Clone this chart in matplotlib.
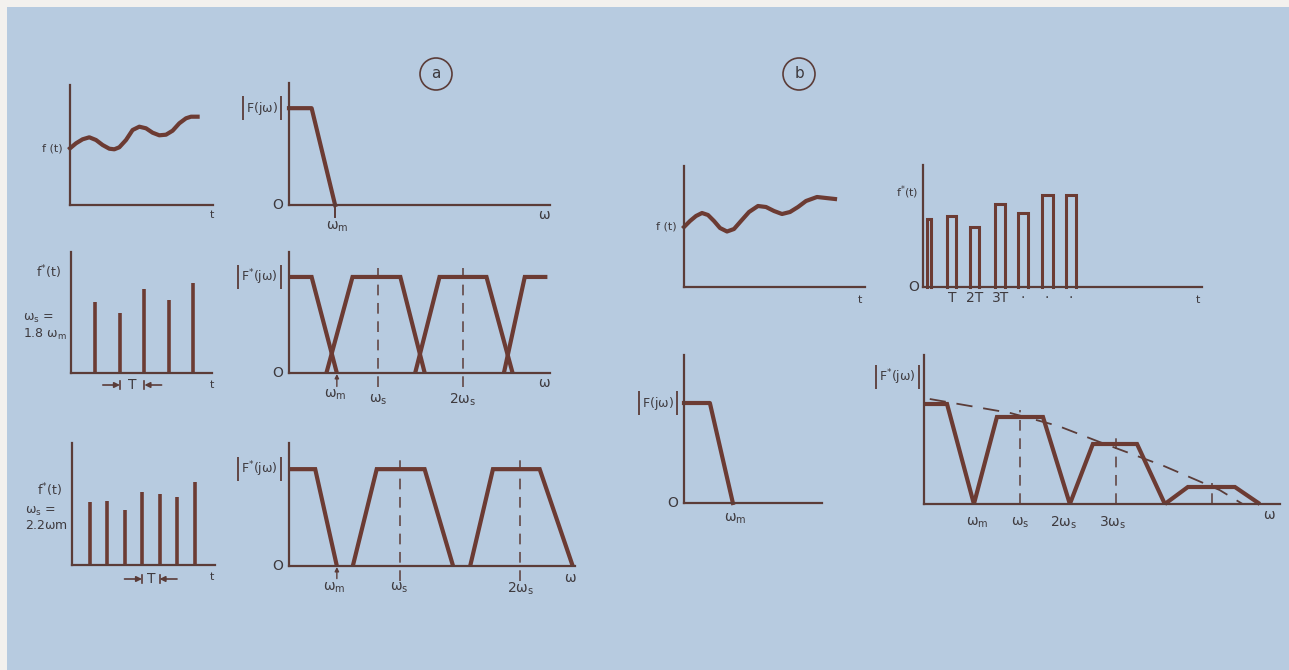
import matplotlib
matplotlib.use("Agg")
import matplotlib.pyplot as plt
from matplotlib.patches import Rectangle, Circle

# Figure size in pixels
W, H = 1289, 670

# Colours
BG_COLOR = "#b7cbe0"
LINE_COLOR = "#6c3b33"
AXIS_COLOR = "#5b3c38"
TEXT_COLOR = "#3e3a3e"

plt.rcParams["mathtext.fontset"] = "dejavusans"
plt.rcParams["mathtext.default"] = "regular"
plt.rcParams["font.family"] = ["DejaVu Sans"]

# ---------------- panel (a) data ----------------
# continuous signal f(t), top row (time / value in drawing units)
a_cont_t = [0, 6, 12.6, 19.3, 26, 32.6, 39.3, 44.3, 49.3, 56, 62.6, 69.3, 76,
            82.6, 89.3, 96, 102.6, 109.3, 116, 121, 127.6]
a_cont_f = [56.7, 61.7, 65.7, 67.7, 65, 60, 56.3, 55.7, 57.7, 65, 75, 78.3,
            76.7, 72.3, 69.7, 70.3, 74.3, 81.7, 86.7, 88.3, 88.3]

# baseband spectrum |F(jw)| (w in units of ws)
a_base_w = [0, 0.26, 0.53]
a_base_mag = [1, 1, 0]
a_wm_top = 0.53

# samples with ws = 1.8 wm (t in units of T)
a18_times = [1, 2, 3, 4, 5]
a18_values = [71, 60, 84, 73, 90]

# spectrum lobes for ws = 1.8 wm
a18_lobes_w = [
    [0, 0.26, 0.55],
    [0.43, 0.73, 1.28, 1.56],
    [1.45, 1.73, 2.27, 2.57],
    [2.47, 2.71, 2.97],
]
a18_lobes_mag = [
    [1, 1, 0],
    [0, 1, 1, 0],
    [0, 1, 1, 0],
    [0, 1, 1],
]
a18_dash_w = [1.02, 2.0]
a18_wm = 0.55

# samples with ws = 2.2 wm
a22_times = [1, 2, 3, 4, 5, 6, 7]
a22_values = [63, 64, 55, 73, 71, 68, 83]

# spectrum lobes for ws = 2.2 wm
a22_lobes_w = [
    [0, 0.23, 0.42],
    [0.56, 0.77, 1.19, 1.44],
    [1.59, 1.79, 2.2, 2.49],
]
a22_lobes_mag = [
    [1, 1, 0],
    [0, 1, 1, 0],
    [0, 1, 1, 0],
]
a22_dash_w = [0.97, 2.03]
a22_wm = 0.42

# ---------------- panel (b) data ----------------
b_cont_t = [0, 6, 12, 18, 24, 30, 36, 43, 50, 57, 65, 74, 82, 90, 98, 106,
            114, 122, 133, 142, 151]
b_cont_f = [60, 66, 71, 74, 72, 66, 59, 55.5, 58, 66, 75, 81, 80, 76, 73, 75,
            80, 86, 90, 89, 88]

# flat-top pulses (t in units of T)
b_pulse_start = [0.17, 1.01, 1.97, 3.03, 3.99, 5.0, 6.01]
b_pulse_end = [0.34, 1.39, 2.35, 3.45, 4.41, 5.46, 6.43]
b_pulse_height = [68, 71, 60, 83, 74, 92, 92]
b_pulse_labels = ["T", "2T", "3T", "\u00b7", "\u00b7", "\u00b7"]
b_pulse_label_t = [1.22, 2.18, 3.24, 4.2, 5.2, 6.2]

b_base_w = [0, 0.27, 0.51]
b_base_mag = [1, 1, 0]

b_lobes_w = [
    [0, 0.24, 0.52],
    [0.52, 0.76, 1.24, 1.52],
    [1.52, 1.76, 2.22, 2.51],
    [2.51, 2.75, 3.24, 3.5],
]
b_lobes_mag = [
    [1.0, 1.0, 0],
    [0, 0.87, 0.87, 0],
    [0, 0.60, 0.60, 0],
    [0, 0.17, 0.17, 0],
]
b_dash_w = [1.0, 2.0, 3.0]
b_dash_top = [0.94, 0.66, 0.21]
b_env_w = [0.06, 0.9, 1.4, 1.83, 2.5, 3.08, 3.32]
b_env_mag = [1.05, 0.91, 0.78, 0.62, 0.38, 0.14, 0.0]
b_tick_labels = [r"$\omega_m$", r"$\omega_s$", r"$2\omega_s$", r"$3\omega_s$"]
b_tick_w = [0.55, 1.0, 1.45, 1.97]

# texts that get tall |...| bars once their size is known
bracket_texts = []


def make_axes(fig, origin, x_end, y_top, x_max, y_max):
    """Create an L-shaped axes whose origin and extent are given in figure pixels."""
    x0, y0 = origin
    ax = fig.add_axes([x0 / W, 1 - y0 / H, (x_end - x0) / W, (y0 - y_top) / H])
    ax.set_xlim(0, x_max)
    ax.set_ylim(0, y_max)
    ax.patch.set_visible(False)
    for side in ["top", "right"]:
        ax.spines[side].set_visible(False)
    for side in ["left", "bottom"]:
        ax.spines[side].set_color(AXIS_COLOR)
        ax.spines[side].set_linewidth(1.6)
    ax.set_xticks([])
    ax.set_yticks([])
    return ax


def label(ax, x, y, text, size=10, **kwargs):
    ax.text(x, y, text, color=TEXT_COLOR, fontsize=size, clip_on=False, **kwargs)


def side_label(ax, y, text, dx=-5, size=10, **kwargs):
    """Label placed just left of the vertical axis."""
    return ax.annotate(text, xy=(0, y), xytext=(dx, 0), textcoords="offset points",
                       ha="right", va="center", color=TEXT_COLOR, fontsize=size,
                       annotation_clip=False, **kwargs)


def bracket_label(ax, y, text, dx=-5, size=9):
    """|F(jw)| style label: inner text now, tall bars added after layout."""
    t = side_label(ax, y, text, dx=dx - 3, size=size)
    bracket_texts.append(t)


def add_brackets(fig, bg):
    fig.canvas.draw()
    renderer = fig.canvas.get_renderer()
    for t in bracket_texts:
        bb = t.get_window_extent(renderer)
        yc = (bb.y0 + bb.y1) / 2
        for x in (bb.x0 - 3, bb.x1 + 3):
            bg.plot([x, x], [H - (yc - 12), H - (yc + 12)], color=AXIS_COLOR,
                    lw=1.3, solid_capstyle="butt")


def draw_lobes(ax, lobes_w, lobes_mag):
    for w, m in zip(lobes_w, lobes_mag):
        ax.plot(w, m, color=LINE_COLOR, lw=3.0, solid_joinstyle="miter",
                solid_capstyle="butt", clip_on=False)


def draw_dashes(ax, positions, bottom, top):
    for p in positions:
        ax.plot([p, p], [bottom, top], color=AXIS_COLOR, lw=1.1,
                dashes=(7, 5), clip_on=False)


def wm_arrow(ax, w, y_from, y_to):
    ax.annotate("", xy=(w, y_to), xytext=(w, y_from),
                arrowprops=dict(arrowstyle="-|>", color=AXIS_COLOR, lw=1.0,
                                mutation_scale=6, shrinkA=0, shrinkB=0),
                annotation_clip=False)


def period_marker(ax, t_left, t_right, y, arm, bar):
    """Draw the ->| T |<- marker between two samples."""
    style = dict(arrowstyle="-|>", color=AXIS_COLOR, lw=1.2, mutation_scale=8,
                 shrinkA=0, shrinkB=0)
    ax.annotate("", xy=(t_left, y), xytext=(t_left - arm, y),
                arrowprops=style, annotation_clip=False)
    ax.annotate("", xy=(t_right, y), xytext=(t_right + arm, y),
                arrowprops=style, annotation_clip=False)
    for t in (t_left, t_right):
        ax.plot([t, t], [y - bar, y + bar], color=AXIS_COLOR, lw=1.2, clip_on=False)
    label(ax, (t_left + t_right) / 2, y, "T", size=10, ha="center", va="center")


def main():
    fig = plt.figure(figsize=(W / 100, H / 100), dpi=100)
    fig.patch.set_facecolor("#f3f1ee")

    # background board and circled panel letters
    bg = fig.add_axes([0, 0, 1, 1], zorder=-1)
    bg.set_xlim(0, W)
    bg.set_ylim(H, 0)
    bg.axis("off")
    bg.add_patch(Rectangle((7, 7), W, H, color=BG_COLOR, lw=0))
    for cx, letter in [(436, "a"), (799, "b")]:
        bg.add_patch(Circle((cx, 74), 16, fill=False, ec=AXIS_COLOR, lw=1.2))
        bg.text(cx, 73, letter, ha="center", va="center", fontsize=11, color=TEXT_COLOR)

    # ---------- (a) row 1: f(t) ----------
    ax = make_axes(fig, (70, 205), 213, 85, 143, 120)
    ax.plot(a_cont_t, a_cont_f, color=LINE_COLOR, lw=3.0, clip_on=False)
    side_label(ax, a_cont_f[0], "f (t)", size=8)
    label(ax, 142, -10, "t", size=8, ha="center", va="center")

    # ---------- (a) row 1: |F(jw)| ----------
    ax = make_axes(fig, (289, 205), 550, 83, 3.0, 1.26)
    ax.plot(a_base_w, a_base_mag, color=LINE_COLOR, lw=3.0, clip_on=False)
    ax.plot([a_wm_top, a_wm_top], [-0.12, 0.04], color=AXIS_COLOR, lw=1.4, clip_on=False)
    bracket_label(ax, 1.0, r"F(j$\omega$)")
    side_label(ax, 0.0, "O", dx=-4)
    label(ax, 0.55, -0.22, r"$\omega_m$", ha="center", va="center")
    label(ax, 2.94, -0.1, r"$\omega$", ha="center", va="center")

    # ---------- (a) row 2: samples, ws = 1.8 wm ----------
    ax = make_axes(fig, (71, 373), 212, 252, 5.76, 121)
    ax.vlines(a18_times, 0, a18_values, color=LINE_COLOR, lw=2.6, clip_on=False)
    side_label(ax, 101, r"f$^{*}$(t)", dx=-7, size=9)
    ax.annotate("$\\omega_s$ =\n1.8 $\\omega_m$", xy=(0, 46), xytext=(-3, 0),
                textcoords="offset points", ha="right", va="center",
                multialignment="left", color=TEXT_COLOR, fontsize=9,
                annotation_clip=False, linespacing=1.1)
    period_marker(ax, a18_times[1], a18_times[2], -12, 0.7, 4)
    label(ax, 5.76, -12, "t", size=8, ha="center", va="center")

    # ---------- (a) row 2: spectrum, ws = 1.8 wm ----------
    ax = make_axes(fig, (289, 373), 550, 252, 3.0, 1.26)
    draw_dashes(ax, a18_dash_w, -0.15, 1.09)
    draw_lobes(ax, a18_lobes_w, a18_lobes_mag)
    wm_arrow(ax, a18_wm, -0.14, -0.01)
    bracket_label(ax, 1.0, r"F$^{*}$(j$\omega$)")
    side_label(ax, 0.0, "O", dx=-4)
    label(ax, a18_wm - 0.02, -0.23, r"$\omega_m$", ha="center", va="center")
    label(ax, a18_dash_w[0], -0.28, r"$\omega_s$", ha="center", va="center")
    label(ax, a18_dash_w[1], -0.28, r"$2\omega_s$", ha="center", va="center")
    label(ax, 2.94, -0.1, r"$\omega$", ha="center", va="center")

    # ---------- (a) row 3: samples, ws = 2.2 wm ----------
    ax = make_axes(fig, (72, 565), 215, 443, 8.17, 122)
    ax.vlines(a22_times, 0, a22_values, color=LINE_COLOR, lw=2.6, clip_on=False)
    side_label(ax, 75, r"f$^{*}$(t)", dx=-7, size=9)
    ax.annotate("$\\omega_s$ =\n2.2$\\omega$m", xy=(0, 47), xytext=(-3, 0),
                textcoords="offset points", ha="right", va="center",
                multialignment="left", color=TEXT_COLOR, fontsize=9,
                annotation_clip=False, linespacing=1.1)
    period_marker(ax, a22_times[3], a22_times[4], -14, 1.0, 4)
    label(ax, 8.0, -12, "t", size=8, ha="center", va="center")

    # ---------- (a) row 3: spectrum, ws = 2.2 wm ----------
    ax = make_axes(fig, (289, 566), 575, 443, 2.51, 1.27)
    draw_dashes(ax, a22_dash_w, -0.16, 1.09)
    draw_lobes(ax, a22_lobes_w, a22_lobes_mag)
    wm_arrow(ax, a22_wm, -0.13, -0.01)
    bracket_label(ax, 1.0, r"F$^{*}$(j$\omega$)")
    side_label(ax, 0.0, "O", dx=-4)
    label(ax, a22_wm - 0.02, -0.23, r"$\omega_m$", ha="center", va="center")
    label(ax, a22_dash_w[0], -0.23, r"$\omega_s$", ha="center", va="center")
    label(ax, a22_dash_w[1], -0.24, r"$2\omega_s$", ha="center", va="center")
    label(ax, 2.47, -0.12, r"$\omega$", ha="center", va="center")

    # ---------- (b) row 1: f(t) ----------
    ax = make_axes(fig, (684, 287), 865, 166, 181, 121)
    ax.plot(b_cont_t, b_cont_f, color=LINE_COLOR, lw=3.0, clip_on=False)
    side_label(ax, b_cont_f[0], "f (t)", size=8)
    label(ax, 176, -13, "t", size=8, ha="center", va="center")

    # ---------- (b) row 1: flat-top pulses ----------
    ax = make_axes(fig, (923, 287), 1202, 165, 11.72, 122)
    for s, e, h in zip(b_pulse_start, b_pulse_end, b_pulse_height):
        ax.plot([s, s, e, e], [0, h, h, 0], color=LINE_COLOR, lw=2.2,
                solid_joinstyle="miter", clip_on=False)
    for t, txt in zip(b_pulse_label_t, b_pulse_labels):
        label(ax, t, -11, txt, ha="center", va="center")
    side_label(ax, 95, r"f$^{*}$(t)", dx=-3, size=8)
    side_label(ax, 0, "O", dx=-3)
    label(ax, 11.55, -13, "t", size=8, ha="center", va="center")

    # ---------- (b) row 2: |F(jw)| ----------
    ax = make_axes(fig, (684, 503), 822, 355, 1.44, 1.48)
    ax.plot(b_base_w, b_base_mag, color=LINE_COLOR, lw=3.0, clip_on=False)
    bracket_label(ax, 1.0, r"F(j$\omega$)", dx=-4)
    side_label(ax, 0.0, "O", dx=-4)
    label(ax, 0.53, -0.16, r"$\omega_m$", ha="center", va="center")

    # ---------- (b) row 2: |F*(jw)| of flat-top sampling ----------
    ax = make_axes(fig, (924, 504), 1280, 355, 3.71, 1.49)
    for p, top in zip(b_dash_w, b_dash_top):
        ax.plot([p, p], [0, top], color=AXIS_COLOR, lw=1.1, dashes=(7, 5), clip_on=False)
    ax.plot(b_env_w, b_env_mag, color=AXIS_COLOR, lw=1.3, dashes=(9, 6), clip_on=False)
    draw_lobes(ax, b_lobes_w, b_lobes_mag)
    bracket_label(ax, 1.27, r"F$^{*}$(j$\omega$)", dx=-3)
    for w, txt in zip(b_tick_w, b_tick_labels):
        label(ax, w, -0.19, txt, ha="center", va="center")
    label(ax, 3.6, -0.11, r"$\omega$", ha="center", va="center")

    add_brackets(fig, bg)
    fig.savefig("out.png", dpi=100, facecolor=fig.get_facecolor())


if __name__ == "__main__":
    main()
